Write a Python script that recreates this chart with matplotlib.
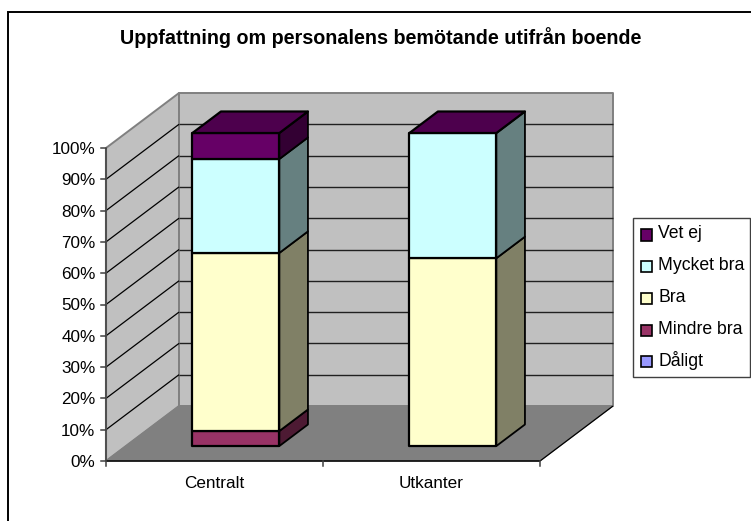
import matplotlib
matplotlib.use("Agg")
import matplotlib.pyplot as plt
from matplotlib.patches import Polygon, Rectangle

plt.rcParams["font.family"] = ["Liberation Sans", "DejaVu Sans"]

categories = ["Centralt", "Utkanter"]
series_names = ["Dåligt", "Mindre bra", "Bra", "Mycket bra", "Vet ej"]
daligt = [0.0, 0.0]
mindre_bra = [4.8, 0.0]
bra = [56.9, 60.0]
mycket_bra = [30.0, 40.0]
vet_ej = [8.3, 0.0]
series_values = [daligt, mindre_bra, bra, mycket_bra, vet_ej]

front_colors = ["#9999FF", "#993366", "#FFFFCC", "#CCFFFF", "#660066"]
side_colors = ["#4D4D80", "#4D1A33", "#808066", "#668080", "#330033"]
top_colors = ["#7373BF", "#732650", "#BFBF99", "#99BFBF", "#4D004D"]
y_ticks = list(range(0, 101, 10))

W, H = 751, 521
# pixel position of the front plane of the chart
PX_LEFT, PX_BOTTOM = 106, 461
PX_CAT = 217.0
PX_PCT = 3.13
DEPTH_X = 73 / PX_CAT
DEPTH_Y = 55 / PX_PCT

fig = plt.figure(figsize=(W / 100, H / 100), dpi=100, facecolor="white")
ax = fig.add_axes([0, 0, 1, 1])
ax.set_xlim(-PX_LEFT / PX_CAT, (W - PX_LEFT) / PX_CAT)
ax.set_ylim(-(H - PX_BOTTOM) / PX_PCT, PX_BOTTOM / PX_PCT)
ax.axis("off")
n_cat = len(categories)


def proj(cat, val, depth):
    return (cat + depth * DEPTH_X, val + depth * DEPTH_Y)


def poly(points, fc, ec, lw, z):
    ax.add_patch(Polygon([proj(*p) for p in points], closed=True, facecolor=fc,
                         edgecolor=ec, linewidth=lw, zorder=z, joinstyle="round"))


def line(p1, p2, color, lw, z):
    a, b = proj(*p1), proj(*p2)
    ax.plot([a[0], b[0]], [a[1], b[1]], color=color, lw=lw, zorder=z, solid_capstyle="butt")


# chart border, only the left and top sides are inside the picture
fig.add_artist(plt.Line2D([8 / W, 8 / W, 1], [0, 1 - 12 / H, 1 - 12 / H], transform=fig.transFigure,
                          color="black", linewidth=1.4, solid_joinstyle="miter"))

# walls and floor
poly([(0, 0, 0), (0, 100, 0), (0, 100, 1), (0, 0, 1)], "#C0C0C0", "#808080", 1.4, 1)
poly([(0, 0, 1), (0, 100, 1), (n_cat, 100, 1), (n_cat, 0, 1)], "#C0C0C0", "#808080", 1.4, 1)
poly([(0, 0, 0), (0, 0, 1), (n_cat, 0, 1), (n_cat, 0, 0)], "#808080", "#808080", 0.8, 1)
line((n_cat, 0, 0), (n_cat, 0, 1), "black", 0.9, 2)

# gridlines
for t in y_ticks[1:-1]:
    line((0, t, 0), (0, t, 1), "black", 0.9, 2)
    line((0, t, 1), (n_cat, t, 1), "#202020", 1.0, 2)

# axes and ticks
line((0, 0, 0), (0, 100, 0), "#505050", 1.5, 3)
line((0, 0, 0), (n_cat, 0, 0), "black", 1.1, 3)
for t in y_ticks:
    a = proj(0, t, 0)
    ax.plot([a[0] - 5 / PX_CAT, a[0]], [t, t], color="#404040", lw=1.1, zorder=3)
    ax.text(a[0] - 10.5 / PX_CAT, t - 1.5 / PX_PCT, "%d%%" % t, ha="right", va="center",
            fontsize=12.3, color="black")
for i in range(n_cat + 1):
    ax.plot([i, i], [0, -5 / PX_PCT], color="#404040", lw=1.1, zorder=3)
for i, name in enumerate(categories):
    ax.text(i + 0.5, -(483 - PX_BOTTOM) / PX_PCT, name, ha="center", va="center", fontsize=12.3)

# stacked bars, each standing between two depths on the floor
bar_half = 87 / PX_CAT / 2
bar_shift = 1.5 / PX_CAT
d0, d1 = 15 / 55, 36.5 / 55
for i in range(n_cat):
    left, right = i + 0.5 + bar_shift - bar_half, i + 0.5 + bar_shift + bar_half
    base = 0.0
    for s, vals in enumerate(series_values):
        top = base + vals[i]
        if vals[i] > 0:
            poly([(left, base, d0), (right, base, d0), (right, top, d0), (left, top, d0)],
                 front_colors[s], "black", 1.6, 10)
            poly([(right, base, d0), (right, base, d1), (right, top, d1), (right, top, d0)],
                 side_colors[s], "black", 1.3, 10)
        base = top
    # top face takes the colour of the last series in the stack
    poly([(left, base, d0), (right, base, d0), (right, base, d1), (left, base, d1)],
         top_colors[-1], "black", 1.6, 11)

# legend
fig.add_artist(Rectangle((633 / W, 1 - 377 / H), 117 / W, 159 / H, transform=fig.transFigure,
                         facecolor="white", edgecolor="#404040", linewidth=1, zorder=20))
rows = list(zip(series_names, front_colors))[::-1]
for k, (name, col) in enumerate(rows):
    py = 234 + k * 31.7
    fig.add_artist(Rectangle((640.5 / W, 1 - (py + 6.5) / H), 11 / W, 11 / H, transform=fig.transFigure,
                             facecolor=col, edgecolor="black", linewidth=1.2, zorder=21))
    fig.text(658 / W, 1 - py / H, name, ha="left", va="center", fontsize=12.7, zorder=21)

fig.text(380.5 / W, 1 - 38 / H, "Uppfattning om personalens bemötande utifrån boende",
         ha="center", va="center", fontsize=14.2, fontweight="bold")

fig.savefig("out.png", dpi=100)
